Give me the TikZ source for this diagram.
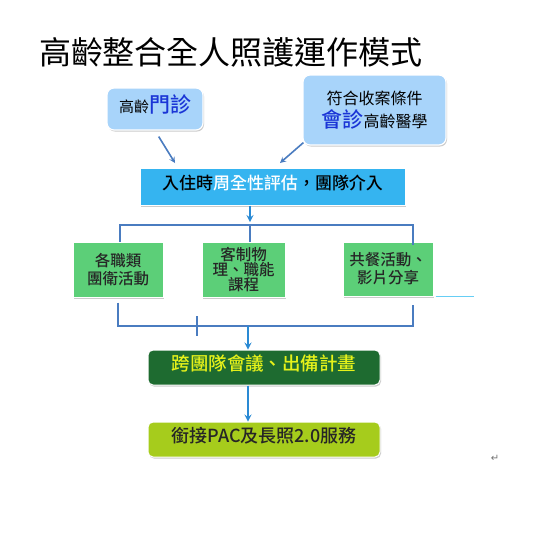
\documentclass[tikz,border=0pt]{standalone}
\usepackage{fontspec}
\setmainfont{Noto Sans CJK TC}[BoldFont={Noto Sans CJK TC Medium}]
\newfontfamily\symfont{DejaVu Sans}
\usepackage[]{xcolor}
\usetikzlibrary{shadows}

\definecolor{skyfill}{HTML}{A8D4FA}
\definecolor{mainfill}{HTML}{35B4F0}
\definecolor{grpfill}{HTML}{5CCF78}
\definecolor{planfill}{HTML}{1E6B30}
\definecolor{linkfill}{HTML}{A6CC1C}
\definecolor{linkline}{HTML}{4A7CC0}
\definecolor{arrowline}{HTML}{2A8AD4}
\definecolor{zhenblue}{HTML}{1A35D6}
\definecolor{plantext}{HTML}{E6F21A}

\tikzset{
  boxshadow/.style={drop shadow={shadow xshift=1pt, shadow yshift=-1.5pt, fill=black!45, opacity=0.45}},
  entrybox/.style={draw=white, line width=1.2pt, fill=skyfill, rounded corners=7pt, boxshadow, align=center},
  mainbox/.style={draw=white, line width=1pt, fill=mainfill, boxshadow, font=\bfseries\fontsize{17}{20}\selectfont},
  grpbox/.style={draw=white, line width=1pt, fill=grpfill, boxshadow, align=center, text=black!85, font=\bfseries\fontsize{15.5}{18}\selectfont},
  planbox/.style={draw=white, line width=1pt, rounded corners=5pt, boxshadow, minimum width=232pt, minimum height=35pt},
  tree/.style={draw=linkline, line width=2.2pt},
  flow/.style={draw=arrowline, line width=2pt, ->, >=stealth}
}

\begin{document}
\begin{tikzpicture}[x=1pt, y=-1pt, text height=1.5ex, text depth=0.25ex]
 	\useasboundingbox[fill=white] (0,0) rectangle (538,539);
 	\node(Title) at (231,61) {\fontsize{32}{32}\selectfont 高齡整合全人照護運作模式};
 	\node[entrybox, minimum width=96pt, minimum height=42pt](Clinic) at (155,109)
 	  {{\fontsize{15}{18}\selectfont 高齡}{\bfseries\color{zhenblue}\fontsize{21}{24}\selectfont 門診}};
 	\node[entrybox, minimum width=143pt, minimum height=70pt, text height=, text depth=](Consult) at (374.5,110)
 	  {{\fontsize{16}{20}\selectfont 符合收案條件}\\[3pt]
 	   {\bfseries\color{zhenblue}\fontsize{21}{24}\selectfont 會診}{\fontsize{16}{20}\selectfont 高齡醫學}};
 	\node[mainbox, minimum width=265pt, minimum height=37pt](Admit) at (272.5,186.5)
 	  {入住時{\color{white}周全性評估}，團隊介入};
 	\node[grpbox, minimum width=90pt, minimum height=55pt, text height=, text depth=](GrpA) at (118,269.5)
 	  {各職類\\團衛活動};
 	\node[grpbox, minimum width=83pt, minimum height=55pt, text height=, text depth=](GrpB) at (243.5,269.5)
 	  {客制物\\[-3pt]理、職能\\[-3pt]課程};
 	\node[grpbox, minimum width=90pt, minimum height=54pt, text height=, text depth=](GrpC) at (388,269)
 	  {共餐活動、\\影片分享};
 	\node[planbox, fill=planfill, text=plantext, font=\bfseries\fontsize{18.5}{20}\selectfont](Plan) at (264,367.5)
 	  {跨團隊會議、出備計畫};
 	\node[planbox, fill=linkfill, text=black!85, font=\bfseries\fontsize{18}{20}\selectfont](Link) at (264,439.5)
 	  {銜接PAC及長照2.0服務};
 	\node[text=black!55](Mark) at (495,458) {\symfont\fontsize{10}{10}\selectfont ↵};
 	% arrows into the admission box
 	\coordinate(InL) at (175,163);
 	\coordinate(InR) at (280,163);
 	\draw[flow, draw=linkline, line width=1.6pt, shorten <=7pt] (Clinic.south) -- (InL);
 	\draw[flow, draw=linkline, line width=1.6pt] ([xshift=1pt,yshift=3pt]Consult.south west) -- (InR);
 	% branching to the three groups
 	\coordinate(Split) at (250,225);
 	\coordinate(SplitL) at (120,225);
 	\coordinate(SplitR) at (413,225);
 	\draw[flow] (Admit.south -| Split) -- ([yshift=3pt]Split);
 	\draw[tree] (SplitL |- GrpA.north) -- (SplitL) -- (SplitR) -- ([yshift=-3pt]SplitR |- GrpC.north);
 	\draw[tree] (Split) -- (Split |- GrpB.north);
 	\draw[cyan!60, line width=1.2pt] ([xshift=2pt]GrpC.south east) -- ++(38,0);
 	% joining the groups
 	\coordinate(JoinL) at (118,326);
 	\coordinate(JoinR) at (413,326);
 	\coordinate(Join) at (248,326);
 	\coordinate(Tick) at (197,326);
 	\draw[tree] ([yshift=-5pt]JoinL |- GrpA.south) -- (JoinL) -- (JoinR) -- ([yshift=-8pt]JoinR |- GrpC.south);
 	\draw[tree] ([yshift=10pt]Tick) -- ([yshift=-10pt]Tick);
 	\draw[flow] (Join) -- (Join |- Plan.north);
 	\draw[flow] (Plan.south -| Join) -- (Link.north -| Join);
 	\end{tikzpicture}
\end{document}
